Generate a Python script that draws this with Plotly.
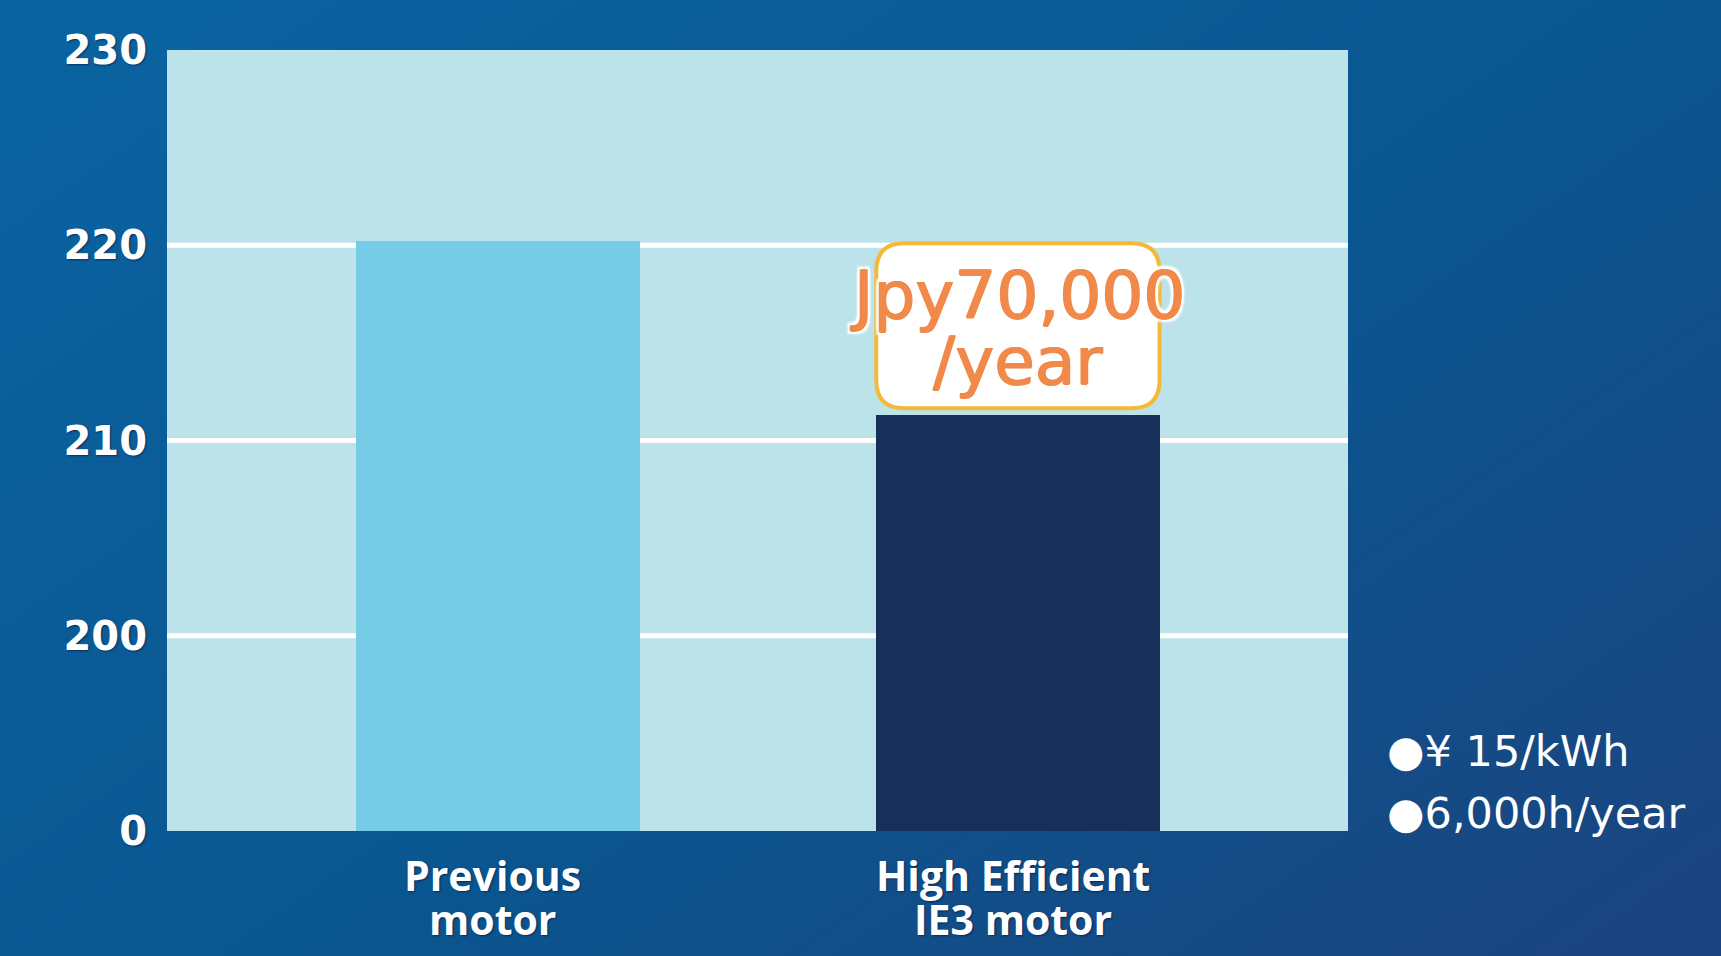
import base64
import plotly.graph_objects as go

# ---- data ----
categories = ["Previous<br>motor", "High Efficient<br>IE3 motor"]
x_pos = [0, 1]
values = [220.2, 211.3]
bar_colors = ["#76cbe6", "#163059"]
y_tickvals = [190, 200, 210, 220, 230]
y_ticktext = ["0", "200", "210", "220", "230"]
grid_vals = [200, 210, 220]
saving_lines = ["Jpy70,000", "/year"]
notes = ["●¥ 15/kWh", "●6,000h/year"]

W, H = 1721, 956
ml, mr, mt, mb = 167, 373, 50, 125
pw, ph = W - ml - mr, H - mt - mb
xr = [-0.637, 1.635]
yr = [190, 230]
bar_w = 0.545

fig = go.Figure()
fig.add_trace(go.Bar(x=x_pos, y=values, width=bar_w, marker=dict(color=bar_colors, line=dict(width=0)),
                     hoverinfo="skip", showlegend=False))

# gradient background via svg image
svg = f'''<svg xmlns="http://www.w3.org/2000/svg" width="{W}" height="{H}" preserveAspectRatio="none" viewBox="0 0 {W} {H}">
<defs><linearGradient id="g" x1="0" y1="0.1" x2="1" y2="0.9">
<stop offset="0" stop-color="#0a63a0"/><stop offset="0.55" stop-color="#0a5690"/><stop offset="1" stop-color="#1a4580"/>
</linearGradient></defs><rect width="{W}" height="{H}" fill="url(#g)"/></svg>'''
src = "data:image/svg+xml;base64," + base64.b64encode(svg.encode()).decode()
fig.add_layout_image(dict(source=src, xref="paper", yref="paper", x=-ml / pw, y=1 + mt / ph,
                          sizex=W / pw, sizey=H / ph, sizing="stretch", layer="below", xanchor="left", yanchor="top"))

# plot area background
fig.add_shape(type="rect", xref="x domain", yref="y domain", x0=0, x1=1, y0=0, y1=1,
              fillcolor="#bde3ea", line=dict(width=0), layer="below")

# gridlines
for g in grid_vals:
    fig.add_shape(type="line", xref="x domain", yref="y", x0=0, x1=1, y0=g, y1=g,
                  line=dict(color="white", width=5), layer="below")

# rounded callout box over the IE3 bar
xi = x_pos[1]
x0, x1 = xi - bar_w / 2, xi + bar_w / 2
y0 = values[1] + 0.35
y1 = y0 + 8.45
rx = 28 / (pw / (xr[1] - xr[0]))
ry = 28 / (ph / (yr[1] - yr[0]))
path = (f"M {x0+rx},{y0} L {x1-rx},{y0} Q {x1},{y0} {x1},{y0+ry} L {x1},{y1-ry} Q {x1},{y1} {x1-rx},{y1} "
        f"L {x0+rx},{y1} Q {x0},{y1} {x0},{y1-ry} L {x0},{y0+ry} Q {x0},{y0} {x0+rx},{y0} Z")
fig.add_shape(type="path", path=path, xref="x", yref="y", fillcolor="white",
              line=dict(color="#f5b93a", width=4), layer="above")

yc = (y0 + y1) / 2
oc = "#f0894a"
halo = (f"0.8px 0 0 {oc}, -0.8px 0 0 {oc}, 0 0.8px 0 {oc}, "
        "3px 3px 2px white, -3px -3px 2px white, 3px -3px 2px white, -3px 3px 2px white")
fig.add_annotation(x=xi, y=yc + 1.55, xref="x", yref="y", text=saving_lines[0], showarrow=False,
                   font=dict(family="DejaVu Sans", size=66, color=oc, shadow=halo))
fig.add_annotation(x=xi, y=yc - 1.85, xref="x", yref="y", text=saving_lines[1], showarrow=False,
                   font=dict(family="DejaVu Sans", size=66, color=oc, shadow=halo))

# category labels (tight line spacing)
for xp, cat in zip(x_pos, categories):
    for k, line in enumerate(cat.split("<br>")):
        fig.add_annotation(x=xp - 0.01, y=0, xref="x", yref="paper", yshift=-(44 + 44 * k),
                           text=f"<b>{line}</b>", showarrow=False, yanchor="middle",
                           font=dict(family="Open Sans", size=41, color="white",
                                     shadow="1px 1px 2px rgba(0,0,40,0.5)"))

# notes on the right
note_y = [(ph - (751 - mt)) / ph, (ph - (813 - mt)) / ph]
for t, yy in zip(notes, note_y):
    fig.add_annotation(x=(1385 - ml) / pw, y=yy, xref="paper", yref="paper", text=t, showarrow=False,
                       xanchor="left", yanchor="middle",
                       font=dict(family="DejaVu Sans", size=43, color="white"))

fig.update_layout(
    width=W, height=H,
    margin=dict(l=ml, r=mr, t=mt, b=mb),
    paper_bgcolor="#0b5790",
    plot_bgcolor="#bde3ea",
    bargap=0,
    xaxis=dict(range=xr, showgrid=False, zeroline=False, showticklabels=False, fixedrange=True),
    yaxis=dict(range=yr, tickvals=y_tickvals, ticktext=y_ticktext, showgrid=False, zeroline=False,
               ticks="", ticklabelstandoff=19,
               tickfont=dict(family="DejaVu Sans", size=40, color="white", weight="bold",
                             shadow="1px 1px 2px rgba(0,0,40,0.5)")),
)

fig.write_html("out.html", config={"displayModeBar": False},
               post_script="document.body.style.margin='0';document.body.style.overflow='hidden';")
